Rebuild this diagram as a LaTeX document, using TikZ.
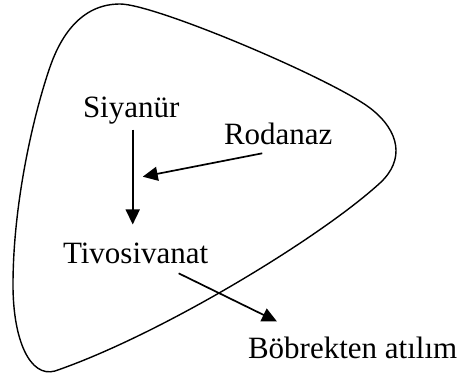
\documentclass[tikz,border=0pt]{standalone}
\usepackage{fontspec}
\setmainfont{Liberation Serif}
\usetikzlibrary{arrows.meta}

\begin{document}
\begin{tikzpicture}[x=1pt, y=-1pt,
  label/.style={inner sep=0pt, outer sep=0pt, anchor=base west,
    font=\fontsize{31}{37}\selectfont},
  arr/.style={line width=1.7pt, -{Triangle[length=15pt, width=14pt]}},
  outline/.style={line width=1.4pt}]
  \useasboundingbox (0,0) rectangle (463,380);

  % the organ outline: a rounded, roughly triangular closed curve
  \draw[outline]
    (13,285) .. controls (13,200) and (35,110) .. (50,67)
             .. controls (60,38) and (80,4) .. (120,4)
             .. controls (155,4) and (330,78) .. (370,108)
             .. controls (400,131) and (405,160) .. (380,183)
             .. controls (320,238) and (160,335) .. (55,371)
             .. controls (30,378) and (13,340) .. cycle;

  % compounds and the enzyme
  \node[label] (siy) at (83,117) {Siyanür};
  \node[label] (rod) at (224,144) {Rodanaz};
  \node[label] (tiv) at (63,263) {Tivosivanat};
  \node[label] (bob) at (248,358) {Böbrekten atılım};

  % reaction arrow and the point where the enzyme acts on it
  \coordinate (vtop) at ([shift={(1.5,6)}]siy.south);
  \coordinate (vend) at (vtop |- tiv.north);
  \coordinate (join) at ([shift={(10,47)}]vtop);

  \draw[arr] (vtop) -- ([shift={(0,-18)}]vend);
  \draw[arr] ([shift={(-16,9)}]rod.south) -- (join);
  \draw[arr] ([shift={(43,10)}]tiv.south) -- ([shift={(29,-15)}]bob.north west);
\end{tikzpicture}
\end{document}
